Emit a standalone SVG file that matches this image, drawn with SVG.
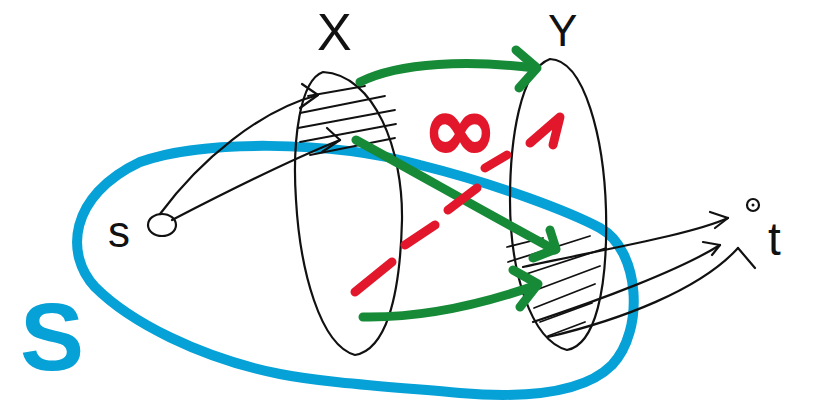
<svg xmlns="http://www.w3.org/2000/svg" width="830" height="414" viewBox="0 0 830 414">
<style>
.ink{fill:none;stroke:#111;stroke-width:2.2;stroke-linecap:round;stroke-linejoin:round}
.hatch{fill:none;stroke:#111;stroke-width:1.8;stroke-linecap:round}
.green{fill:none;stroke:#178a38;stroke-width:9;stroke-linecap:round;stroke-linejoin:round}
.red{fill:none;stroke:#e3172b;stroke-width:9;stroke-linecap:round;stroke-linejoin:round}
.blue{fill:none;stroke:#06a1d7;stroke-width:10;stroke-linecap:round;stroke-linejoin:round}
.lbl{font-family:"Liberation Sans",Arial,sans-serif;fill:#111}
</style>
<rect width="830" height="414" fill="#fff"/>
<g id="S">
<path class="blue" d="M140,162 C200,140 330,140 420,165 C500,185 570,212 600,228 C640,250 645,330 612,365 C582,395 520,398 460,393 C380,386 320,382 280,374 C200,358 130,322 95,287 C65,255 68,196 140,162 Z"/>
<text class="lbl" x="20" y="370" font-size="96" font-weight="bold" style="fill:#06a1d7">S</text>
</g>
<g id="X">
<path class="ink" d="M323,72 C300,80 292,140 296,200 C300,270 320,345 355,355 C385,350 400,300 402,220 C403,150 375,75 323,72 Z"/>
<g class="hatch">
<line x1="308" y1="96" x2="365" y2="86"/>
<line x1="300" y1="113" x2="385" y2="96"/>
<line x1="298" y1="128" x2="395" y2="110"/>
<line x1="300" y1="142" x2="396" y2="124"/>
<line x1="310" y1="155" x2="395" y2="138"/>
</g>
<text class="lbl" x="317" y="50" font-size="52">X</text>
</g>
<g id="Y">
<path class="ink" d="M550,59 C520,70 510,140 510,200 C510,270 530,340 567,350 C595,345 608,290 606,210 C604,140 585,60 550,59 Z"/>
<g class="hatch">
<line x1="507" y1="247" x2="543" y2="238"/>
<line x1="508" y1="262" x2="590" y2="236"/>
<line x1="520" y1="276" x2="606" y2="248"/>
<line x1="528" y1="293" x2="600" y2="266"/>
<line x1="534" y1="308" x2="595" y2="284"/>
<line x1="540" y1="322" x2="592" y2="303"/>
<line x1="548" y1="336" x2="585" y2="322"/>
</g>
<text class="lbl" x="548" y="46" font-size="44">Y</text>
</g>
<g id="s">
<ellipse class="ink" cx="162" cy="225" rx="14" ry="11"/>
<text class="lbl" x="108" y="247" font-size="44">s</text>
</g>
<g id="t">
<circle class="ink" cx="753" cy="205" r="6"/>
<circle cx="753" cy="205" r="1.5" fill="#111"/>
<text class="lbl" x="768" y="255" font-size="46">t</text>
</g>
<g id="connectors">
<path class="ink" d="M160,214 C200,160 260,110 318,95"/>
<path class="ink" d="M302,84 L318,95 L300,108"/>
<path class="ink" d="M172,220 C230,190 290,160 340,140"/>
<path class="ink" d="M327,128 L340,140 L322,152"/>
<path class="ink" d="M523,267 C600,250 690,235 728,218"/>
<path class="ink" d="M710,212 L728,218 L715,228"/>
<path class="ink" d="M533,322 C600,300 680,270 720,245"/>
<path class="ink" d="M703,242 L720,245 L712,255"/>
<path class="ink" d="M548,337 C620,320 700,290 738,248"/>
<path class="ink" d="M738,248 L755,268"/>
<path class="green" d="M360,82 C400,62 470,60 535,68"/>
<path class="green" d="M516,50 L537,68 L519,88"/>
<path class="green" d="M356,140 C420,175 490,215 555,250"/>
<path class="green" d="M550,230 L556,249 L533,258"/>
<path class="green" d="M363,317 C420,318 480,305 537,285"/>
<path class="green" d="M513,270 L538,284 L520,307"/>
<g class="red">
<line x1="355" y1="292" x2="392" y2="262"/>
<line x1="405" y1="245" x2="435" y2="225"/>
<line x1="448" y1="210" x2="477" y2="188"/>
<line x1="485" y1="168" x2="507" y2="155"/>
<path d="M530,143 L560,117 L553,145"/>
</g>
<text x="460" y="160" text-anchor="middle" font-family="DejaVu Sans,sans-serif" font-size="90" font-weight="bold" fill="#e3172b" stroke="#e3172b" stroke-width="2">∞</text>
</g>
</svg>
